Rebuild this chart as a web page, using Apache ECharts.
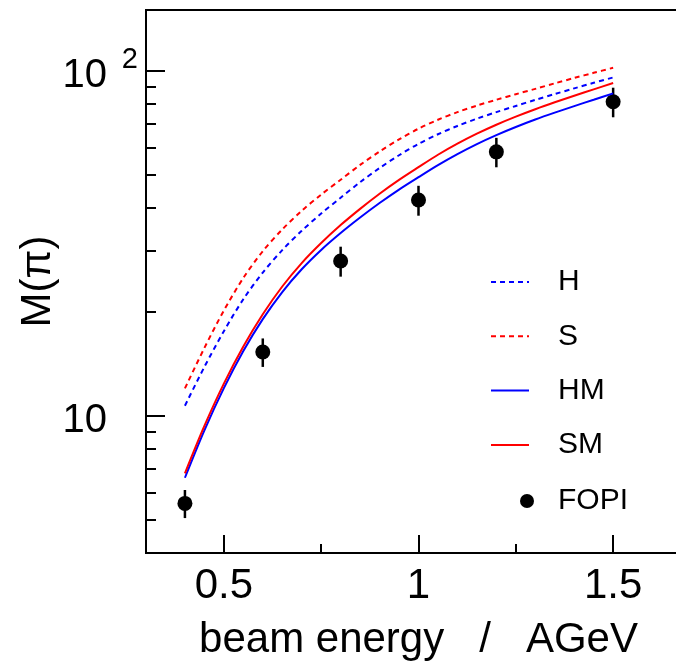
<!DOCTYPE html>
<html>
<head>
<meta charset="utf-8">
<script src="https://cdn.jsdelivr.net/npm/echarts@6/dist/echarts.min.js"></script>
<style>html,body{margin:0;padding:0;background:#fff;}#c{width:676px;height:670px;}</style>
</head>
<body>
<div id="c"></div>
<script>
// ---- data ----
const curveX = [0.4, 0.45, 0.5, 0.55, 0.6, 0.65, 0.7, 0.75, 0.8, 0.85, 0.9, 0.95, 1.0,
                1.05, 1.1, 1.15, 1.2, 1.25, 1.3, 1.35, 1.4, 1.45, 1.5];
const H  = [10.69, 13.85, 17.58, 21.76, 26.0, 30.2, 34.36, 38.55, 42.85, 47.53, 52.24, 56.89, 61.38,
            65.46, 69.18, 72.61, 75.86, 79.07, 82.32, 85.6, 88.92, 92.26, 95.61];
const S  = [12.0, 15.72, 20.18, 25.08, 29.99, 34.67, 39.26, 43.75, 48.31, 53.33, 58.34, 63.24, 67.92,
            72.11, 75.86, 79.25, 82.41, 85.51, 88.62, 91.95, 95.28, 98.63, 101.98];
const HM = [6.61, 9.07, 12.02, 15.4, 19.05, 22.83, 26.58, 30.24, 33.85, 37.54, 41.36, 45.25, 49.15,
            53.27, 57.34, 61.31, 65.09, 68.71, 72.21, 75.6, 78.98, 82.41, 86.0];
const SM = [6.81, 9.34, 12.39, 15.87, 19.68, 23.69, 27.7, 31.66, 35.69, 39.77, 44.0, 48.26, 52.54,
            57.08, 61.45, 65.69, 69.74, 73.62, 77.36, 81.01, 84.63, 88.31, 92.15];
const fopiX   = [0.4, 0.6, 0.8, 1.0, 1.2, 1.5];
const fopiY   = [5.57, 15.3, 28.1, 42.2, 58.2, 81.3];
const fopiErr = [0.52, 1.45, 2.8, 4.2, 5.7, 8.0];
const xMajorTicks = [0.5, 1, 1.5];
const xMinorTicks = [0.75, 1.25];
const yMajorTicks = [10, 100];
const yMinorTicks = [5, 6, 7, 8, 9, 20, 30, 40, 50, 60, 70, 80, 90];

const FONT = 'Liberation Sans, Arial, sans-serif';
const pairs = arr => curveX.map((x, i) => [x, arr[i]]);

const chart = echarts.init(document.getElementById('c'), null, {renderer: 'canvas'});

const baseX = {type: 'value', min: 0.3, max: 1.7, splitLine: {show: false}, gridIndex: 0};
const baseY = {type: 'log', logBase: 10, min: 4, max: 150, splitLine: {show: false}, gridIndex: 0};
const hideSym = {itemStyle: {opacity: 0}};

chart.setOption({
  animation: false,
  backgroundColor: '#fff',
  grid: {left: 146, top: 10, right: -15, bottom: 117, show: true, borderColor: '#000', borderWidth: 2,
         outerBoundsMode: 'none', containLabel: false},
  xAxis: [
    Object.assign({}, baseX, {
      position: 'bottom',
      name: 'beam energy   /   AGeV', nameLocation: 'middle', nameGap: 66, nameMoveOverlap: false,
      nameTextStyle: {fontFamily: FONT, fontSize: 42, color: '#000'},
      axisLine: {show: true, lineStyle: {color: '#000', width: 2}},
      axisTick: {show: true, inside: true, length: 18, customValues: xMajorTicks, lineStyle: {color: '#000', width: 2}},
      axisLabel: {show: true, customValues: xMajorTicks, fontFamily: FONT, fontSize: 42, color: '#000', margin: 12,
                  formatter: v => String(v)}
    }),
    Object.assign({}, baseX, {
      position: 'bottom',
      axisLine: {show: false},
      axisTick: {show: true, inside: true, length: 9, customValues: xMinorTicks, lineStyle: {color: '#000', width: 2}},
      axisLabel: {show: false}
    })
  ],
  yAxis: [
    Object.assign({}, baseY, {
      position: 'left',
      name: 'M(π)', nameLocation: 'middle', nameGap: 87, nameRotate: 90, nameMoveOverlap: false,
      nameTextStyle: {fontFamily: FONT, fontSize: 42, color: '#000'},
      axisLine: {show: true, lineStyle: {color: '#000', width: 2}},
      axisTick: {show: true, inside: true, length: 19, customValues: yMajorTicks, lineStyle: {color: '#000', width: 2}},
      axisLabel: {
        show: true, customValues: yMajorTicks, margin: 8,
        formatter: function (v) {
          if (Math.abs(v - 100) < 1e-6) return '{b|10}{s|2}';
          return '{b|10}{g|}';
        },
        rich: {
          b: {fontFamily: FONT, fontSize: 40, color: '#000', padding: [11, 0, 0, 0], verticalAlign: 'bottom'},
          s: {fontFamily: FONT, fontSize: 29, color: '#000', padding: [0, 0, 0, 15], verticalAlign: 'top'},
          g: {width: 31, fontSize: 29}
        }
      }
    }),
    Object.assign({}, baseY, {
      position: 'left',
      axisLine: {show: false},
      axisTick: {show: true, inside: true, length: 10, customValues: yMinorTicks, lineStyle: {color: '#000', width: 2}},
      axisLabel: {show: false}
    })
  ],
  legend: [
    {
      data: [Object.assign({name: 'H'}, hideSym), Object.assign({name: 'S'}, hideSym),
             Object.assign({name: 'HM'}, hideSym), Object.assign({name: 'SM'}, hideSym)],
      orient: 'vertical', left: 485, top: 262,
      itemWidth: 38, itemHeight: 14, itemGap: 24.3,
      textStyle: {fontFamily: FONT, fontSize: 30, color: '#000', padding: [0, 0, 0, 24]},
      selectedMode: false
    },
    {
      data: ['FOPI'], orient: 'vertical', left: 515, top: 481,
      itemWidth: 14, itemHeight: 14,
      textStyle: {fontFamily: FONT, fontSize: 30, color: '#000', padding: [0, 0, 0, 19]},
      itemStyle: {opacity: 1},
      selectedMode: false
    }
  ],
  series: [
    {name: 'H', type: 'line', data: pairs(H), smooth: 0.3, showSymbol: false, symbol: 'none',
     lineStyle: {color: '#0000ff', width: 2, type: [5, 4]}, itemStyle: {color: '#0000ff'}},
    {name: 'S', type: 'line', data: pairs(S), smooth: 0.3, showSymbol: false, symbol: 'none',
     lineStyle: {color: '#ff0000', width: 2, type: [5, 4]}, itemStyle: {color: '#ff0000'}},
    {name: 'HM', type: 'line', data: pairs(HM), smooth: 0.3, showSymbol: false, symbol: 'none',
     lineStyle: {color: '#0000ff', width: 2}, itemStyle: {color: '#0000ff'}},
    {name: 'SM', type: 'line', data: pairs(SM), smooth: 0.3, showSymbol: false, symbol: 'none',
     lineStyle: {color: '#ff0000', width: 2}, itemStyle: {color: '#ff0000'}},
    {name: 'FOPI-err', type: 'custom', xAxisIndex: 0, yAxisIndex: 0,
     data: fopiX.map((x, i) => [x, fopiY[i] - fopiErr[i], fopiY[i] + fopiErr[i]]),
     renderItem: function (params, api) {
       const p0 = api.coord([api.value(0), api.value(1)]);
       const p1 = api.coord([api.value(0), api.value(2)]);
       return {type: 'line', shape: {x1: p0[0], y1: p0[1], x2: p1[0], y2: p1[1]},
               style: {stroke: '#000', lineWidth: 2.5}};
     }},
    {name: 'FOPI', type: 'scatter', data: fopiX.map((x, i) => [x, fopiY[i]]),
     symbol: 'circle', symbolSize: 15, itemStyle: {color: '#000', opacity: 1}}
  ]
});
</script>
</body>
</html>
